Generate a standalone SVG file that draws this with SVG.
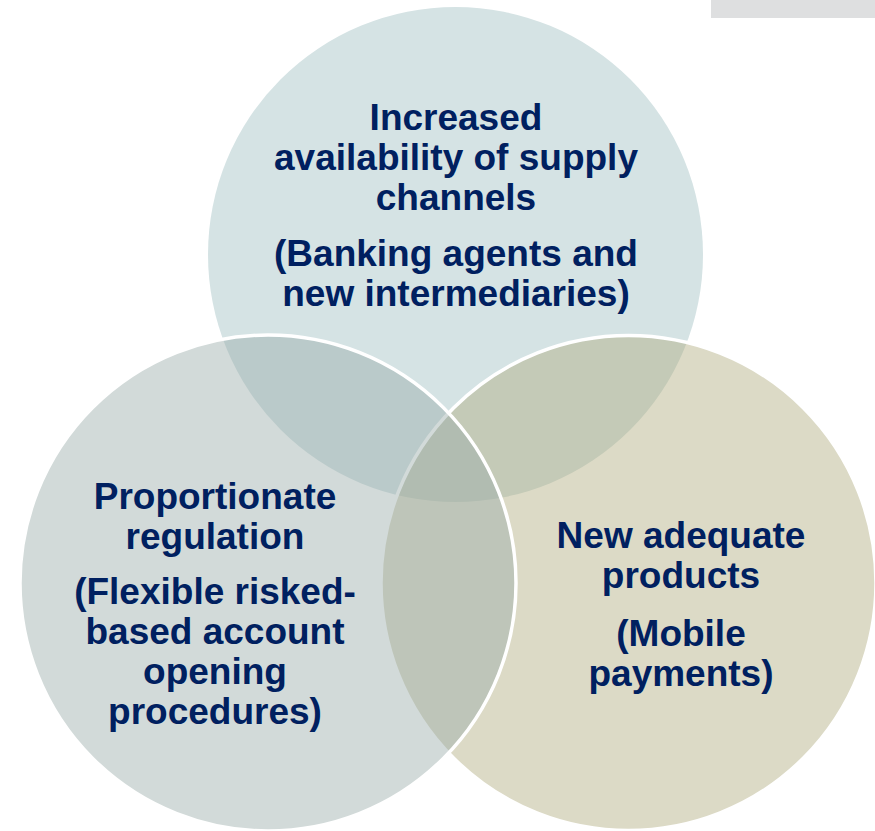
<svg xmlns="http://www.w3.org/2000/svg" width="875" height="831" viewBox="0 0 875 831">
<style>
.lbl{font-family:"Liberation Sans",Arial,sans-serif;font-weight:bold;font-size:37px;fill:#002060;text-anchor:middle}
.ring{stroke:#ffffff;stroke-width:3.5}
</style>
<rect x="0" y="0" width="875" height="831" fill="#ffffff"/>
<rect x="711" y="0" width="164" height="18" fill="#dedfe0"/>
<g id="node-supply">
<circle cx="455.5" cy="254.5" r="247.5" fill="#d5e3e4"/>
<text class="lbl" x="456" y="130">Increased</text>
<text class="lbl" x="456" y="170">availability of supply</text>
<text class="lbl" x="456" y="210">channels</text>
<text class="lbl" x="456" y="266">(Banking agents and</text>
<text class="lbl" x="456" y="306">new intermediaries)</text>
</g>
<g id="node-products">
<circle class="ring" cx="628.5" cy="583" r="247.5" fill="rgb(175,169,124)" fill-opacity="0.43"/>
<text class="lbl" x="681" y="548">New adequate</text>
<text class="lbl" x="681" y="588">products</text>
<text class="lbl" x="681" y="646">(Mobile</text>
<text class="lbl" x="681" y="686">payments)</text>
</g>
<g id="node-regulation">
<circle class="ring" cx="268" cy="583" r="248" fill="rgb(154,172,170)" fill-opacity="0.444"/>
<text class="lbl" x="215" y="509">Proportionate</text>
<text class="lbl" x="215" y="549">regulation</text>
<text class="lbl" x="215" y="604">(Flexible risked-</text>
<text class="lbl" x="215" y="644">based account</text>
<text class="lbl" x="215" y="684">opening</text>
<text class="lbl" x="215" y="724">procedures)</text>
</g>
<g id="connectors"></g>
</svg>
